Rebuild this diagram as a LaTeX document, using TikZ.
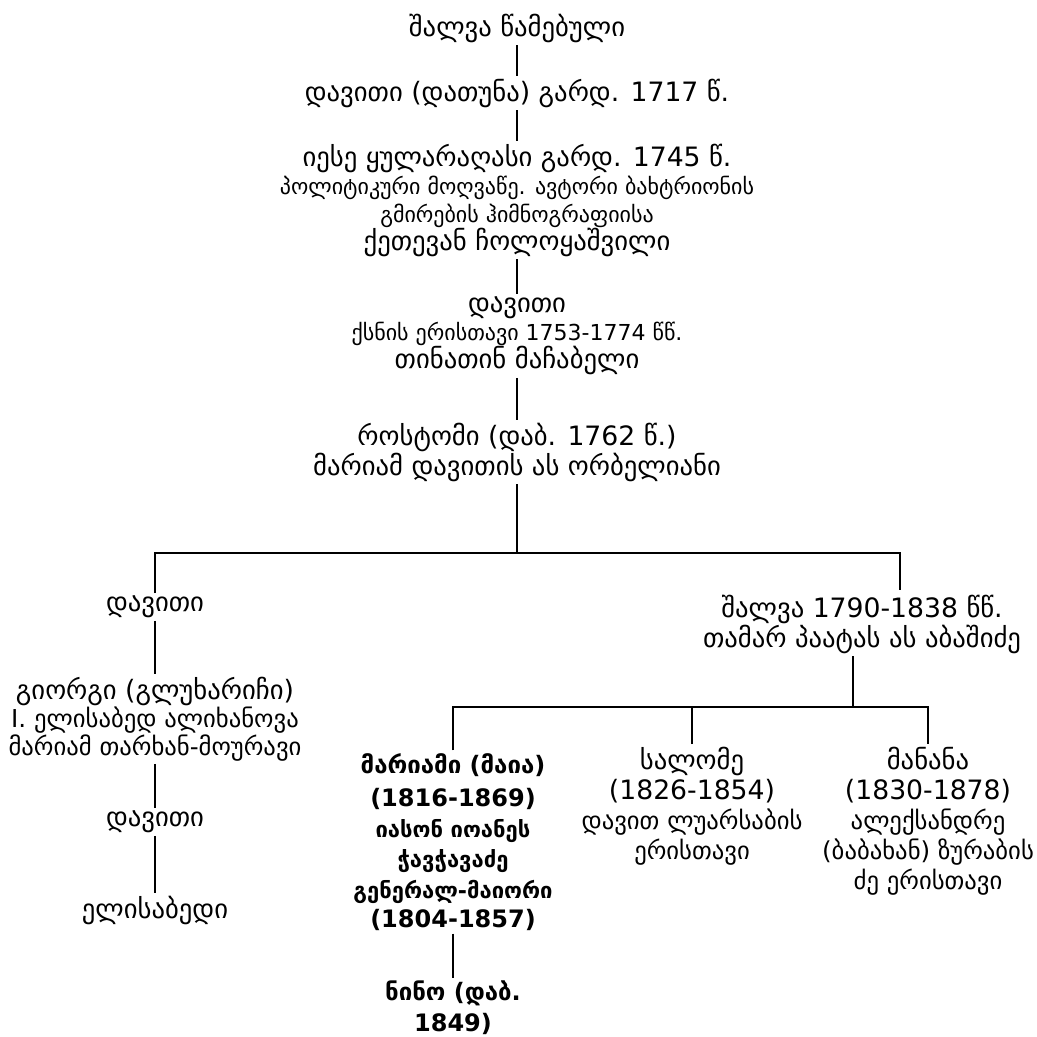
\documentclass[tikz,border=0pt]{standalone}
\usepackage{fontspec}
\setmainfont{DejaVu Sans}
\newcommand\bigtxt{\fontsize{20}{21}\selectfont}
\newcommand\midtxt{\fontsize{18.5}{21}\selectfont}
\newcommand\smtxt{\fontsize{16.5}{21}\selectfont}
\newcommand\bftxt{\fontsize{18}{21}\selectfont\bfseries}
\newcommand\bfsmtxt{\fontsize{16.5}{21}\selectfont\bfseries}
\begin{document}
\begin{tikzpicture}[x=0.75pt,y=-0.75pt,line width=2.2pt,
	every node/.style={align=center,inner sep=1pt,font=\bigtxt}]
\useasboundingbox (0,0) rectangle (1037,1037);
% main line
\node (salva) at (517,28) {შალვა წამებული};
\node (datuna) at (517,93) {დავითი (დათუნა) გარდ. 1717 წ.};
\node (iese) at (517,200) {იესე ყულარაღასი გარდ. 1745 წ.\\
	{\smtxt პოლიტიკური მოღვაწე. ავტორი ბახტრიონის}\\
	{\smtxt გმირების ჰიმნოგრაფიისა}\\
	ქეთევან ჩოლოყაშვილი};
\node (davit) at (517,336) {დავითი\\
	{\smtxt ქსნის ერისთავი 1753-1774 წწ.}\\
	თინათინ მაჩაბელი};
\node (rostom) at (517,452) {როსტომი (დაბ. 1762 წ.)\\
	მარიამ დავითის ას ორბელიანი};
\coordinate (bar) at (517,553);
% left branch
\node (ldavit) at (155,607) {დავითი};
\node (giorgi) at (155,719) {გიორგი (გლუხარიჩი)\\
	{\midtxt I. ელისაბედ ალიხანოვა}\\
	{\midtxt მარიამ თარხან-მოურავი}};
\node (ldavit2) at (155,822) {დავითი};
\node (elisabed) at (155,910) {ელისაბედი};
% right branch
\node (rsalva) at (862,624) {შალვა 1790-1838 წწ.\\
	თამარ პაატას ას აბაშიძე};
\coordinate (rtop) at (900,590);
\coordinate (bar2) at (853,707);
\node (mariami) at (453,842) {\bftxt მარიამი (მაია)\\[4pt]
	\bftxt (1816-1869)\\[2pt]
	{\bfsmtxt იასონ იოანეს}\\[2pt]
	{\bfsmtxt ჭავჭავაძე}\\[2pt]
	{\bfsmtxt გენერალ-მაიორი}\\[1pt]
	\bftxt (1804-1857)};
\node (nino) at (453,1008) {\bftxt ნინო (დაბ.\\[2pt]
	\bftxt 1849)};
\node (salome) at (692,806) {სალომე\\[1.5pt]
	(1826-1854)\\[1.5pt]
	{\midtxt დავით ლუარსაბის}\\[1.5pt]
	{\midtxt ერისთავი}};
\node (manana) at (928,821) {მანანა\\[1.5pt]
	(1830-1878)\\[1.5pt]
	{\midtxt ალექსანდრე}\\[1.5pt]
	{\midtxt (ბაბახან) ზურაბის}\\[1.5pt]
	{\midtxt ძე ერისთავი}};
% connectors
\draw (salva) -- (datuna);
\draw (datuna) -- (iese);
\draw (iese) -- (davit);
\draw (davit) -- (rostom);
\draw (rostom) -- (bar);
\draw (ldavit.north) |- (bar) -| (rtop);
\draw (ldavit) -- (giorgi);
\draw (giorgi) -- (ldavit2);
\draw (ldavit2) -- (elisabed);
\draw (rsalva.south -| bar2) -- (bar2);
\draw (mariami.north) |- (bar2) -| (manana.north);
\draw (salome.north) -- (salome.north |- bar2);
\draw (mariami) -- (nino);
\end{tikzpicture}
\end{document}
